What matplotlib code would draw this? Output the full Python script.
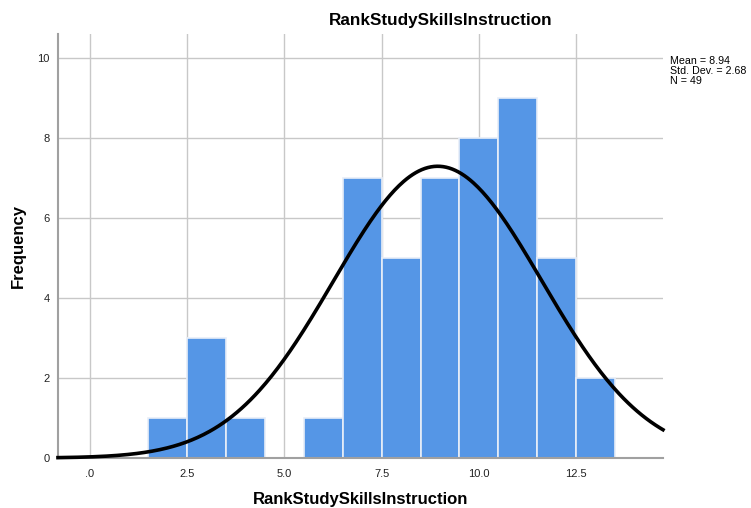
import numpy as np
import matplotlib
matplotlib.use("Agg")
import matplotlib.pyplot as plt

# binned ranks (bin centres) and their counts
bin_centers = [2, 3, 4, 5, 6, 7, 8, 9, 10, 11, 12, 13]
counts = [1, 3, 1, 0, 1, 7, 5, 7, 8, 9, 5, 2]
x_ticks = [0, 2.5, 5.0, 7.5, 10.0, 12.5]
x_tick_labels = [".0", "2.5", "5.0", "7.5", "10.0", "12.5"]
y_ticks = [0, 2, 4, 6, 8, 10]

mean = 8.94
std_dev = 2.68
n = 49
bin_width = 1.0
var_name = "RankStudySkillsInstruction"

plt.rcParams["font.family"] = ["Liberation Sans", "DejaVu Sans"]

fig = plt.figure(figsize=(7.51, 5.08), dpi=100)
ax = fig.add_axes([0.0772, 0.0984, 0.8056, 0.8346])

xmin, xmax = -0.82, 14.73
ax.set_xlim(xmin, xmax)
ax.set_ylim(0, 10.6)

ax.set_axisbelow(True)
ax.grid(True, color="#c8c8c8", linewidth=1.0)

ax.bar(bin_centers, counts, width=bin_width, color="#5596e6",
       edgecolor="#e8eef8", linewidth=1.2, zorder=2)

# normal curve scaled to the histogram
xs = np.linspace(xmin, xmax, 400)
ys = n * bin_width / (std_dev * np.sqrt(2 * np.pi)) * np.exp(-0.5 * ((xs - mean) / std_dev) ** 2)
ax.plot(xs, ys, color="black", linewidth=2.6, zorder=3, clip_on=False)

ax.set_xticks(x_ticks)
ax.set_xticklabels(x_tick_labels)
ax.set_yticks(y_ticks)
ax.tick_params(length=0, labelsize=8, colors="#222222")
ax.tick_params(axis="y", pad=6)
ax.tick_params(axis="x", pad=8)

for side in ("top", "right"):
    ax.spines[side].set_visible(False)
for side in ("left", "bottom"):
    ax.spines[side].set_color("#a0a0a0")
    ax.spines[side].set_linewidth(1.5)

ax.set_xlabel(var_name, fontsize=12, fontweight="bold", labelpad=9)
ax.set_ylabel("Frequency", fontsize=12, fontweight="bold", labelpad=8)
fig.text(441 / 751, 1 - 20 / 508, var_name, ha="center", va="center",
         fontsize=12.3, fontweight="bold")

fig.text(670 / 751, 1 - 56 / 508,
         f"Mean = {mean:.2f}\nStd. Dev. = {std_dev:.2f}\nN = {n}",
         ha="left", va="top", fontsize=7.7, linespacing=1.0)

fig.savefig("out.png", dpi=100, facecolor="white")
